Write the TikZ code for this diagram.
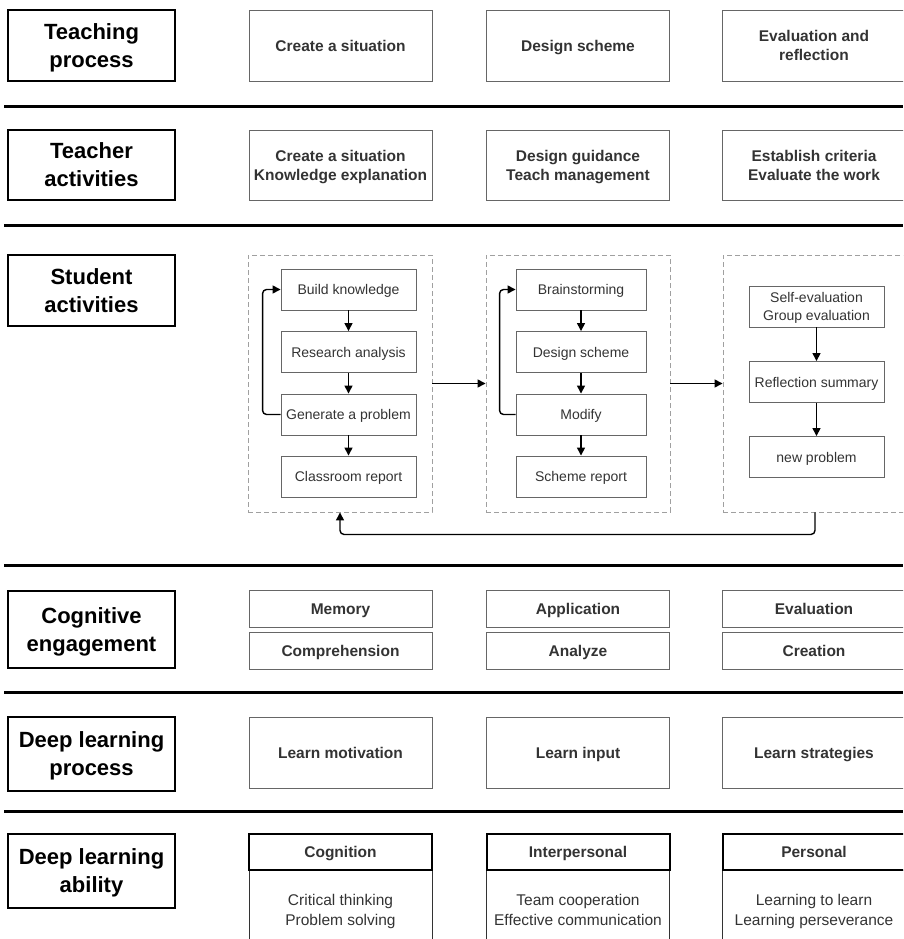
\documentclass[tikz,border=0pt]{standalone}
\usepackage{fontspec}
\setmainfont{Liberation Sans}
\usetikzlibrary{arrows.meta}
\definecolor{txt}{HTML}{333333}
\definecolor{bord}{HTML}{666666}
\definecolor{dash}{HTML}{A0A0A0}
\begin{document}
\begin{tikzpicture}[x=1pt,y=-1pt,
  lab/.style={draw=black, line width=2.4pt, minimum width=167pt, align=center,
    font=\fontsize{22}{28}\selectfont\bfseries, inner sep=0pt,
    text height=43.8pt, text depth=0pt},
  cbox/.style={draw=bord, line width=0.9pt, minimum width=183pt, align=center,
    text=txt, font=\fontsize{15.5}{19}\selectfont\bfseries, inner sep=0pt},
  ibox/.style={draw=bord, line width=0.9pt, minimum height=41pt, align=center,
    text=txt, font=\fontsize{14}{18.5}\selectfont, inner sep=0pt},
  one16/.style={text height=11.1pt, text depth=0pt},
  two16/.style={text height=30.1pt, text depth=0pt},
  one14/.style={text height=10pt, text depth=0pt},
  two14/.style={text height=28.5pt, text depth=0pt},
  dbox/.style={draw=dash, dashed, dash pattern=on 5pt off 3pt, line width=0.9pt, inner sep=0pt},
  hbox/.style={draw=black, line width=2pt, minimum width=183pt, minimum height=36pt,
    text=txt, font=\fontsize{15.5}{19}\selectfont\bfseries, inner sep=0pt, one16},
  bbox/.style={draw=black!80, line width=1pt, minimum width=183pt, minimum height=80pt,
    align=center, text=txt, font=\fontsize{15.5}{20}\selectfont, inner sep=0pt,
    text height=31.1pt, text depth=0pt},
  arr/.style={line width=1.4pt, -{Triangle[length=8pt,width=8pt]}},
  sep/.style={line width=3pt}]
\useasboundingbox (0,0) rectangle (903,939);
\clip (0,0) rectangle (903,939);

% separators
\foreach \yy in {107,225,565,692,811} \draw[sep] (4,\yy) -- (903,\yy);

% row labels
\node[lab, minimum height=71pt] (l1) at (91.5,45.5) {Teaching\\process};
\node[lab, minimum height=70pt] (l2) at (91.5,165) {Teacher\\activities};
\node[lab, minimum height=71pt] (l3) at (91.5,290.5) {Student\\activities};
\node[lab, minimum height=77pt] (l4) at (91.5,629.5) {Cognitive\\engagement};
\node[lab, minimum height=74pt] (l5) at (91.5,754) {Deep learning\\process};
\node[lab, minimum height=74pt] (l6) at (91.5,871) {Deep learning\\ability};

% teaching process
\node[cbox, one16, minimum height=71pt] (tp1) at (340.5,45.5) {Create a situation};
\node[cbox, one16, minimum height=71pt] (tp2) at (578,45.5) {Design scheme};
\node[cbox, two16, minimum height=71pt] (tp3) at (814,45.5) {Evaluation and\\reflection};

% teacher activities
\node[cbox, two16, minimum height=70pt] (ta1) at (340.5,165.5) {Create a situation\\Knowledge explanation};
\node[cbox, two16, minimum height=70pt] (ta2) at (578,165.5) {Design guidance\\Teach management};
\node[cbox, two16, minimum height=70pt] (ta3) at (814,165.5) {Establish criteria\\Evaluate the work};

% student activities: dashed groups
\node[dbox, minimum width=184pt, minimum height=257pt] (d1) at (340,383.5) {};
\node[dbox, minimum width=184pt, minimum height=257pt] (d2) at (578,383.5) {};
\node[dbox, minimum width=184pt, minimum height=257pt] (d3) at (815,383.5) {};

\node[ibox, one14, minimum width=135pt] (a1) at (348.5,289.5) {Build knowledge};
\node[ibox, one14, minimum width=135pt] (a2) at (348.5,352) {Research analysis};
\node[ibox, one14, minimum width=135pt] (a3) at (348.5,414.5) {Generate a problem};
\node[ibox, one14, minimum width=135pt] (a4) at (348.5,476.5) {Classroom report};

\node[ibox, one14, minimum width=130pt] (b1) at (581,289.5) {Brainstorming};
\node[ibox, one14, minimum width=130pt] (b2) at (581,352) {Design scheme};
\node[ibox, one14, minimum width=130pt] (b3) at (581,414.5) {Modify};
\node[ibox, one14, minimum width=130pt] (b4) at (581,476.5) {Scheme report};

\node[ibox, two14, minimum width=135pt] (c1) at (816.5,306.5) {Self-evaluation\\Group evaluation};
\node[ibox, one14, minimum width=135pt] (c2) at (816.5,382) {Reflection summary};
\node[ibox, one14, minimum width=135pt] (c3) at (816.5,457) {new problem};

\draw[arr] (a1) -- (a2);
\draw[arr] (a2) -- (a3);
\draw[arr] (a3) -- (a4);
\draw[arr, rounded corners=4pt] (a3.west) -| ([xshift=-18pt]a1.west) -- (a1.west);

\draw[arr] (b1) -- (b2);
\draw[arr] (b2) -- (b3);
\draw[arr] (b3) -- (b4);
\draw[arr, rounded corners=4pt] (b3.west) -| ([xshift=-16pt]b1.west) -- (b1.west);

\draw[arr] (c1) -- (c2);
\draw[arr] (c2) -- (c3);

\draw[arr] (d1.east) -- (d2.west);
\draw[arr] (d2.east) -- (d3.west);
\coordinate (lb) at ([yshift=-22pt]d3.south);
\draw[arr, rounded corners=4pt] (d3.south) -- (lb) -| (d1.south);

% cognitive engagement
\node[cbox, one16, minimum height=37pt] (ce1) at (340.5,608.5) {Memory};
\node[cbox, one16, minimum height=37pt] (ce2) at (340.5,650.5) {Comprehension};
\node[cbox, one16, minimum height=37pt] (ce3) at (578,608.5) {Application};
\node[cbox, one16, minimum height=37pt] (ce4) at (578,650.5) {Analyze};
\node[cbox, one16, minimum height=37pt] (ce5) at (814,608.5) {Evaluation};
\node[cbox, one16, minimum height=37pt] (ce6) at (814,650.5) {Creation};

% deep learning process
\node[cbox, one16, minimum height=71pt] (dp1) at (340.5,752.5) {Learn motivation};
\node[cbox, one16, minimum height=71pt] (dp2) at (578,752.5) {Learn input};
\node[cbox, one16, minimum height=71pt] (dp3) at (814,752.5) {Learn strategies};

% deep learning ability
\node[bbox] (bb1) at (340.5,910) {Critical thinking\\Problem solving};
\node[bbox] (bb2) at (578,910) {Team cooperation\\Effective communication};
\node[bbox] (bb3) at (814,910) {Learning to learn\\Learning perseverance};
\node[hbox] (h1) at (340.5,852) {Cognition};
\node[hbox] (h2) at (578,852) {Interpersonal};
\node[hbox] (h3) at (814,852) {Personal};
\end{tikzpicture}
\end{document}
